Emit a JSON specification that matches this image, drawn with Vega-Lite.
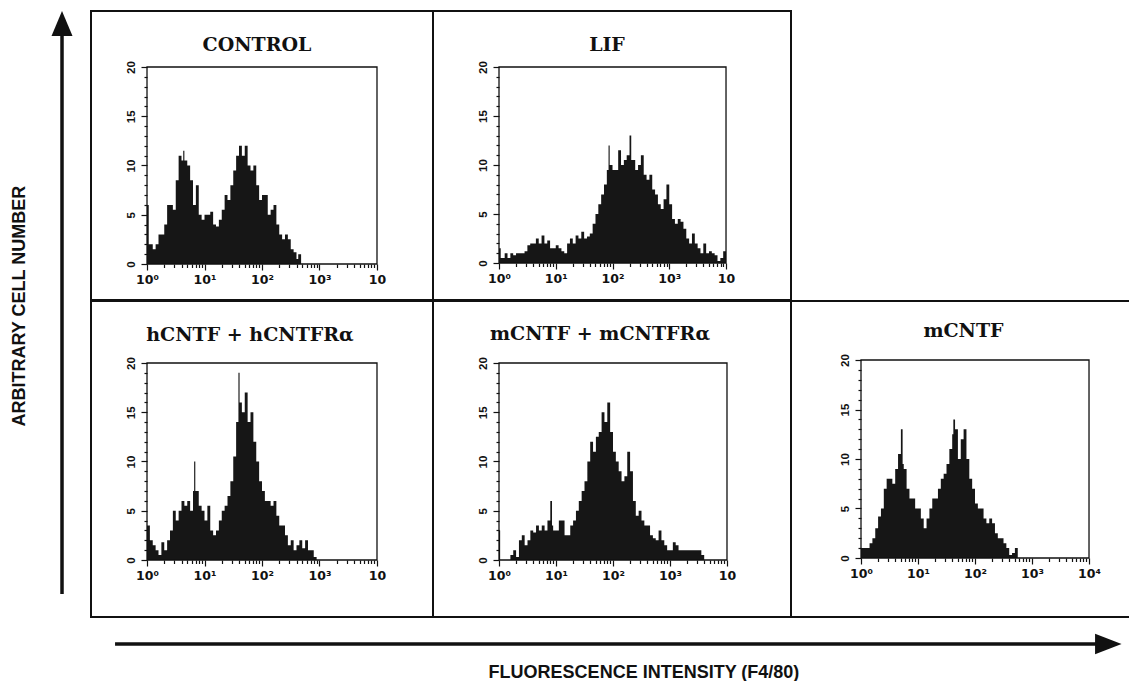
{
  "$schema": "https://vega.github.io/schema/vega-lite/v6.json",
  "background": "white",
  "padding": {"top": 10, "left": 0, "right": 0, "bottom": 0},
  "spacing": 0,
  "config": {
    "view": {"stroke": "#111", "strokeWidth": 2},
    "concat": {"spacing": 0},
    "axis": {
      "grid": false, "title": null, "domain": false,
      "labelFont": "Liberation Sans", "labelFontWeight": "bold", "labelColor": "#111",
      "tickColor": "#111", "tickWidth": 1.2,
      "labelOverlap": false, "labelFlush": false, "labelBound": false
    },
    "axisBottom": {"labelFont": "DejaVu Sans", "labelFontSize": 12.5, "labelPadding": 3},
    "axisLeft": {"labelFontSize": 11.5, "labelPadding": 5, "labelAngle": 270, "labelAlign": "center", "labelBaseline": "bottom"},
    "title": {"font": "DejaVu Serif", "fontSize": 19, "fontWeight": "bold", "color": "#111", "anchor": "middle", "frame": "group", "baseline": "alphabetic"}
  },
  "datasets": {
    "control": [
      {"d":0,"n":6},{"d":0.03,"n":2},{"d":0.1,"n":1.5},{"d":0.15,"n":2},{"d":0.2,"n":3},{"d":0.25,"n":3},{"d":0.3,"n":4},{"d":0.35,"n":6},{"d":0.4,"n":6},{"d":0.45,"n":5.5},{"d":0.5,"n":8.5},{"d":0.55,"n":11},{"d":0.6,"n":10.5},{"d":0.63,"n":11.5},{"d":0.65,"n":10.5},{"d":0.7,"n":10},{"d":0.75,"n":8.5},{"d":0.8,"n":6},{"d":0.85,"n":8},{"d":0.9,"n":5},{"d":0.95,"n":4.5},{"d":1,"n":5},{"d":1.05,"n":5},{"d":1.1,"n":5.3},{"d":1.15,"n":4},{"d":1.2,"n":3.8},{"d":1.25,"n":4.5},{"d":1.3,"n":5.5},{"d":1.35,"n":7},{"d":1.4,"n":6.5},{"d":1.45,"n":8},{"d":1.5,"n":9.5},{"d":1.55,"n":11},{"d":1.6,"n":12},{"d":1.65,"n":11},{"d":1.7,"n":12},{"d":1.75,"n":10},{"d":1.8,"n":9.5},{"d":1.85,"n":10},{"d":1.9,"n":8},{"d":1.95,"n":6.5},{"d":2,"n":7},{"d":2.05,"n":7},{"d":2.1,"n":5},{"d":2.15,"n":5.5},{"d":2.2,"n":6},{"d":2.25,"n":4},{"d":2.3,"n":3},{"d":2.35,"n":2.5},{"d":2.4,"n":3},{"d":2.45,"n":2.5},{"d":2.5,"n":1.5},{"d":2.55,"n":1.2},{"d":2.6,"n":0.5},{"d":2.63,"n":1},{"d":2.68,"n":0}
    ],
    "lif": [
      {"d":0,"n":1.5},{"d":0.03,"n":0.5},{"d":0.1,"n":1},{"d":0.15,"n":0.5},{"d":0.2,"n":1},{"d":0.25,"n":0.8},{"d":0.3,"n":1},{"d":0.35,"n":1},{"d":0.4,"n":1},{"d":0.45,"n":1.2},{"d":0.5,"n":1.8},{"d":0.55,"n":2},{"d":0.6,"n":2},{"d":0.65,"n":2.5},{"d":0.7,"n":2},{"d":0.75,"n":2.8},{"d":0.8,"n":2},{"d":0.85,"n":2.3},{"d":0.9,"n":1.5},{"d":0.95,"n":1.5},{"d":1,"n":1.8},{"d":1.05,"n":1.5},{"d":1.1,"n":1.2},{"d":1.15,"n":1},{"d":1.2,"n":2},{"d":1.25,"n":2.5},{"d":1.3,"n":2},{"d":1.35,"n":2.8},{"d":1.4,"n":2.5},{"d":1.45,"n":3.2},{"d":1.5,"n":2.5},{"d":1.55,"n":2.7},{"d":1.6,"n":3},{"d":1.65,"n":4},{"d":1.7,"n":5},{"d":1.75,"n":6},{"d":1.8,"n":7},{"d":1.85,"n":8},{"d":1.9,"n":9.5},{"d":1.93,"n":12},{"d":1.95,"n":10},{"d":2,"n":9.5},{"d":2.05,"n":9.5},{"d":2.1,"n":11.5},{"d":2.15,"n":10},{"d":2.2,"n":10.5},{"d":2.25,"n":11},{"d":2.3,"n":13},{"d":2.33,"n":10.5},{"d":2.4,"n":9.5},{"d":2.45,"n":10},{"d":2.5,"n":11},{"d":2.55,"n":9},{"d":2.6,"n":8.5},{"d":2.65,"n":9},{"d":2.7,"n":7.5},{"d":2.75,"n":7},{"d":2.8,"n":6},{"d":2.85,"n":5.5},{"d":2.9,"n":6.5},{"d":2.95,"n":8},{"d":3,"n":6},{"d":3.05,"n":4.5},{"d":3.1,"n":4},{"d":3.15,"n":4.5},{"d":3.2,"n":4.2},{"d":3.25,"n":3.5},{"d":3.3,"n":2.5},{"d":3.35,"n":2},{"d":3.4,"n":3},{"d":3.45,"n":2},{"d":3.5,"n":1.5},{"d":3.55,"n":1},{"d":3.6,"n":2},{"d":3.65,"n":1},{"d":3.7,"n":1.2},{"d":3.75,"n":1},{"d":3.8,"n":0.8},{"d":3.85,"n":0.2},{"d":3.9,"n":0.5},{"d":3.95,"n":1.2},{"d":4,"n":0}
    ],
    "hcntf": [
      {"d":0,"n":3.5},{"d":0.05,"n":2},{"d":0.1,"n":1.5},{"d":0.15,"n":1},{"d":0.2,"n":0.5},{"d":0.25,"n":1.8},{"d":0.3,"n":1},{"d":0.35,"n":2},{"d":0.4,"n":3},{"d":0.45,"n":5},{"d":0.5,"n":4},{"d":0.55,"n":5},{"d":0.6,"n":6},{"d":0.65,"n":5.5},{"d":0.7,"n":6},{"d":0.75,"n":5},{"d":0.8,"n":7},{"d":0.82,"n":10},{"d":0.84,"n":7},{"d":0.9,"n":5.5},{"d":0.95,"n":5},{"d":1,"n":4},{"d":1.05,"n":5.5},{"d":1.1,"n":3},{"d":1.15,"n":2.5},{"d":1.2,"n":3},{"d":1.25,"n":4},{"d":1.3,"n":5},{"d":1.35,"n":5.5},{"d":1.4,"n":6.5},{"d":1.45,"n":8},{"d":1.5,"n":10.5},{"d":1.55,"n":14},{"d":1.59,"n":19},{"d":1.61,"n":16},{"d":1.65,"n":15},{"d":1.7,"n":17},{"d":1.75,"n":14},{"d":1.8,"n":15},{"d":1.85,"n":12},{"d":1.9,"n":10},{"d":1.95,"n":8},{"d":2,"n":7},{"d":2.05,"n":6},{"d":2.1,"n":6},{"d":2.15,"n":5.5},{"d":2.2,"n":6},{"d":2.25,"n":4.5},{"d":2.3,"n":3.5},{"d":2.35,"n":3.5},{"d":2.4,"n":2.5},{"d":2.45,"n":1.5},{"d":2.5,"n":2},{"d":2.55,"n":1},{"d":2.6,"n":1.5},{"d":2.65,"n":2},{"d":2.7,"n":1.2},{"d":2.75,"n":2},{"d":2.8,"n":1},{"d":2.85,"n":1},{"d":2.9,"n":0.3},{"d":2.95,"n":0}
    ],
    "mcntfr": [
      {"d":0,"n":3},{"d":0.02,"n":0},{"d":0.2,"n":0.5},{"d":0.25,"n":1},{"d":0.3,"n":0.3},{"d":0.35,"n":2},{"d":0.4,"n":2.5},{"d":0.45,"n":1.5},{"d":0.5,"n":2},{"d":0.55,"n":3},{"d":0.6,"n":2.8},{"d":0.65,"n":3.5},{"d":0.7,"n":3},{"d":0.75,"n":3.5},{"d":0.8,"n":3},{"d":0.85,"n":4},{"d":0.9,"n":6},{"d":0.93,"n":3.5},{"d":0.95,"n":3},{"d":1,"n":3},{"d":1.05,"n":4},{"d":1.1,"n":4},{"d":1.15,"n":2.5},{"d":1.2,"n":2.5},{"d":1.25,"n":3.5},{"d":1.3,"n":4},{"d":1.35,"n":5},{"d":1.4,"n":6},{"d":1.45,"n":7},{"d":1.5,"n":8},{"d":1.55,"n":10},{"d":1.6,"n":12},{"d":1.65,"n":11},{"d":1.7,"n":12.5},{"d":1.75,"n":13},{"d":1.8,"n":15},{"d":1.85,"n":14},{"d":1.9,"n":16},{"d":1.95,"n":13},{"d":2,"n":11},{"d":2.05,"n":10},{"d":2.1,"n":9},{"d":2.15,"n":8},{"d":2.2,"n":8.5},{"d":2.25,"n":11},{"d":2.3,"n":9},{"d":2.35,"n":6},{"d":2.4,"n":4.5},{"d":2.45,"n":5},{"d":2.5,"n":4},{"d":2.55,"n":3.5},{"d":2.6,"n":3.5},{"d":2.65,"n":2.5},{"d":2.7,"n":2.2},{"d":2.75,"n":2},{"d":2.8,"n":3},{"d":2.85,"n":2},{"d":2.9,"n":1.5},{"d":2.95,"n":1},{"d":3,"n":1},{"d":3.05,"n":1.8},{"d":3.1,"n":1.5},{"d":3.15,"n":1},{"d":3.5,"n":1},{"d":3.55,"n":0.5},{"d":3.6,"n":0}
    ],
    "mcntf": [
      {"d":0,"n":1},{"d":0.15,"n":1.5},{"d":0.2,"n":2},{"d":0.25,"n":3},{"d":0.3,"n":4.2},{"d":0.35,"n":5},{"d":0.4,"n":7},{"d":0.45,"n":8},{"d":0.5,"n":8},{"d":0.55,"n":7.5},{"d":0.6,"n":9},{"d":0.65,"n":10.5},{"d":0.7,"n":13},{"d":0.73,"n":9.5},{"d":0.75,"n":9},{"d":0.8,"n":7},{"d":0.85,"n":6},{"d":0.9,"n":6},{"d":0.95,"n":5},{"d":1,"n":5},{"d":1.05,"n":4},{"d":1.1,"n":3},{"d":1.15,"n":4},{"d":1.2,"n":5},{"d":1.25,"n":6},{"d":1.3,"n":6},{"d":1.35,"n":7},{"d":1.4,"n":8},{"d":1.45,"n":8.5},{"d":1.5,"n":9.5},{"d":1.55,"n":11},{"d":1.6,"n":12.5},{"d":1.62,"n":14},{"d":1.65,"n":13},{"d":1.7,"n":10},{"d":1.75,"n":12},{"d":1.8,"n":13},{"d":1.85,"n":10},{"d":1.9,"n":8},{"d":1.95,"n":7},{"d":2,"n":5.5},{"d":2.05,"n":5},{"d":2.1,"n":5},{"d":2.15,"n":4},{"d":2.2,"n":3.5},{"d":2.25,"n":4},{"d":2.3,"n":3.5},{"d":2.35,"n":2.5},{"d":2.4,"n":2},{"d":2.45,"n":2},{"d":2.5,"n":1.5},{"d":2.55,"n":1},{"d":2.6,"n":0.3},{"d":2.65,"n":0.5},{"d":2.7,"n":1},{"d":2.75,"n":0}
    ]
  },
  "vconcat": [
    {
      "spacing": 0,
      "hconcat": [
        {
          "width": 90, "height": 606,
          "view": {"stroke": null},
          "layer": [
            {
              "data": {"values": [{}]},
              "mark": {"type": "rule", "strokeWidth": 3.5, "color": "#111"},
              "encoding": {
                "x": {"datum": 68.9, "type": "quantitative", "scale": {"domain": [0, 100]}, "axis": null},
                "y": {"datum": 95.9, "type": "quantitative", "scale": {"domain": [0, 100]}, "axis": null},
                "y2": {"datum": 3.8}
              }
            },
            {
              "data": {"values": [{}]},
              "mark": {"type": "point", "shape": "M0,-1L-0.84,1L0.84,1Z", "filled": true, "size": 625, "color": "#111", "opacity": 1},
              "encoding": {
                "x": {"datum": 68.9, "type": "quantitative"},
                "y": {"datum": 97.94, "type": "quantitative"}
              }
            },
            {
              "data": {"values": [{"label": "ARBITRARY CELL NUMBER"}]},
              "mark": {"type": "text", "angle": 270, "font": "Liberation Sans", "fontWeight": "bold", "fontSize": 18, "color": "#111", "align": "center", "baseline": "middle"},
              "encoding": {
                "x": {"datum": 22.2, "type": "quantitative"},
                "y": {"datum": 51.3, "type": "quantitative"},
                "text": {"field": "label"}
              }
            }
          ]
        },
        {
          "spacing": -2,
          "vconcat": [
            {
              "bounds": "flush", "spacing": 0,
              "hconcat": [
                {
                  "width": 342, "height": 289,
                  "title": {"text": "CONTROL", "offset": -44, "dx": -5},
                  "resolve": {"axis": {"x": "independent", "y": "independent"}},
                  "layer": [
                    {
                      "data": {"name": "control"},
                      "mark": {"type": "area", "interpolate": "step-after", "color": "#161616"},
                      "encoding": {
                        "x": {"field": "d", "type": "quantitative", "scale": {"domain": [-0.974, 4.974], "nice": false, "zero": false},
                          "axis": {"orient": "bottom", "offset": -36, "values": [0,1,2,3,4], "tickSize": 6,
                            "labelExpr": "datum.value == 0 ? '10⁰' : datum.value == 1 ? '10¹' : datum.value == 2 ? '10²' : datum.value == 3 ? '10³' : '10'"}},
                        "y": {"field": "n", "type": "quantitative", "scale": {"domain": [-3.655, 25.685], "nice": false, "zero": false},
                          "axis": {"orient": "left", "offset": -56, "values": [0,5,10,15,20], "tickSize": 6}}
                      }
                    },
                    {
                      "data": {"values": [{}]},
                      "mark": {"type": "rect", "filled": false, "stroke": "#111", "strokeWidth": 1.3},
                      "encoding": {
                        "x": {"datum": 0, "type": "quantitative", "axis": {"orient": "bottom", "offset": -36, "labels": false, "tickSize": 3.5, "values": [0.301,0.477,0.602,0.699,0.778,0.845,0.903,0.954,1.301,1.477,1.602,1.699,1.778,1.845,1.903,1.954,2.301,2.477,2.602,2.699,2.778,2.845,2.903,2.954,3.301,3.477,3.602,3.699,3.778,3.845,3.903,3.954]}},
                        "x2": {"datum": 4},
                        "y": {"datum": 0, "type": "quantitative", "axis": {"orient": "left", "offset": -56, "labels": false, "tickSize": 3, "values": [1,2,3,4,6,7,8,9,11,12,13,14,16,17,18,19]}},
                        "y2": {"datum": 20}
                      }
                    }
                  ]
                },
                {
                  "width": 358, "height": 289,
                  "title": {"text": "LIF", "offset": -44, "dx": -5},
                  "resolve": {"axis": {"x": "independent", "y": "independent"}},
                  "layer": [
                    {
                      "data": {"name": "lif"},
                      "mark": {"type": "area", "interpolate": "step-after", "color": "#161616"},
                      "encoding": {
                        "x": {"field": "d", "type": "quantitative", "scale": {"domain": [-1.163, 5.145], "nice": false, "zero": false},
                          "axis": {"orient": "bottom", "offset": -37, "values": [0,1,2,3,4], "tickSize": 6,
                            "labelExpr": "datum.value == 0 ? '10⁰' : datum.value == 1 ? '10¹' : datum.value == 2 ? '10²' : datum.value == 3 ? '10³' : '10'"}},
                        "y": {"field": "n", "type": "quantitative", "scale": {"domain": [-3.776, 25.714], "nice": false, "zero": false},
                          "axis": {"orient": "left", "offset": -66, "values": [0,5,10,15,20], "tickSize": 6}}
                      }
                    },
                    {
                      "data": {"values": [{}]},
                      "mark": {"type": "rect", "filled": false, "stroke": "#111", "strokeWidth": 1.3},
                      "encoding": {
                        "x": {"datum": 0, "type": "quantitative", "axis": {"orient": "bottom", "offset": -37, "labels": false, "tickSize": 3.5, "values": [0.301,0.477,0.602,0.699,0.778,0.845,0.903,0.954,1.301,1.477,1.602,1.699,1.778,1.845,1.903,1.954,2.301,2.477,2.602,2.699,2.778,2.845,2.903,2.954,3.301,3.477,3.602,3.699,3.778,3.845,3.903,3.954]}},
                        "x2": {"datum": 4},
                        "y": {"datum": 0, "type": "quantitative", "axis": {"orient": "left", "offset": -66, "labels": false, "tickSize": 3, "values": [1,2,3,4,6,7,8,9,11,12,13,14,16,17,18,19]}},
                        "y2": {"datum": 20}
                      }
                    }
                  ]
                }
              ]
            },
            {
              "bounds": "flush", "spacing": 0,
              "hconcat": [
                {
                  "width": 342, "height": 316,
                  "title": {"text": "hCNTF + hCNTFRα", "offset": -44, "dx": -12},
                  "resolve": {"axis": {"x": "independent", "y": "independent"}},
                  "layer": [
                    {
                      "data": {"name": "hcntf"},
                      "mark": {"type": "area", "interpolate": "step-after", "color": "#161616"},
                      "encoding": {
                        "x": {"field": "d", "type": "quantitative", "scale": {"domain": [-0.974, 4.974], "nice": false, "zero": false},
                          "axis": {"orient": "bottom", "offset": -57, "values": [0,1,2,3,4], "tickSize": 6,
                            "labelExpr": "datum.value == 0 ? '10⁰' : datum.value == 1 ? '10¹' : datum.value == 2 ? '10²' : datum.value == 3 ? '10³' : '10'"}},
                        "y": {"field": "n", "type": "quantitative", "scale": {"domain": [-5.787, 26.294], "nice": false, "zero": false},
                          "axis": {"orient": "left", "offset": -56, "values": [0,5,10,15,20], "tickSize": 6}}
                      }
                    },
                    {
                      "data": {"values": [{}]},
                      "mark": {"type": "rect", "filled": false, "stroke": "#111", "strokeWidth": 1.3},
                      "encoding": {
                        "x": {"datum": 0, "type": "quantitative", "axis": {"orient": "bottom", "offset": -57, "labels": false, "tickSize": 3.5, "values": [0.301,0.477,0.602,0.699,0.778,0.845,0.903,0.954,1.301,1.477,1.602,1.699,1.778,1.845,1.903,1.954,2.301,2.477,2.602,2.699,2.778,2.845,2.903,2.954,3.301,3.477,3.602,3.699,3.778,3.845,3.903,3.954]}},
                        "x2": {"datum": 4},
                        "y": {"datum": 0, "type": "quantitative", "axis": {"orient": "left", "offset": -56, "labels": false, "tickSize": 3, "values": [1,2,3,4,6,7,8,9,11,12,13,14,16,17,18,19]}},
                        "y2": {"datum": 20}
                      }
                    }
                  ]
                },
                {
                  "width": 358, "height": 316,
                  "title": {"text": "mCNTF + mCNTFRα", "offset": -43, "dx": -12},
                  "resolve": {"axis": {"x": "independent", "y": "independent"}},
                  "layer": [
                    {
                      "data": {"name": "mcntfr"},
                      "mark": {"type": "area", "interpolate": "step-after", "color": "#161616"},
                      "encoding": {
                        "x": {"field": "d", "type": "quantitative", "scale": {"domain": [-1.158, 5.123], "nice": false, "zero": false},
                          "axis": {"orient": "bottom", "offset": -57, "values": [0,1,2,3,4], "tickSize": 6,
                            "labelExpr": "datum.value == 0 ? '10⁰' : datum.value == 1 ? '10¹' : datum.value == 2 ? '10²' : datum.value == 3 ? '10³' : '10'"}},
                        "y": {"field": "n", "type": "quantitative", "scale": {"domain": [-5.787, 26.294], "nice": false, "zero": false},
                          "axis": {"orient": "left", "offset": -66, "values": [0,5,10,15,20], "tickSize": 6}}
                      }
                    },
                    {
                      "data": {"values": [{}]},
                      "mark": {"type": "rect", "filled": false, "stroke": "#111", "strokeWidth": 1.3},
                      "encoding": {
                        "x": {"datum": 0, "type": "quantitative", "axis": {"orient": "bottom", "offset": -57, "labels": false, "tickSize": 3.5, "values": [0.301,0.477,0.602,0.699,0.778,0.845,0.903,0.954,1.301,1.477,1.602,1.699,1.778,1.845,1.903,1.954,2.301,2.477,2.602,2.699,2.778,2.845,2.903,2.954,3.301,3.477,3.602,3.699,3.778,3.845,3.903,3.954]}},
                        "x2": {"datum": 4},
                        "y": {"datum": 0, "type": "quantitative", "axis": {"orient": "left", "offset": -66, "labels": false, "tickSize": 3, "values": [1,2,3,4,6,7,8,9,11,12,13,14,16,17,18,19]}},
                        "y2": {"datum": 20}
                      }
                    }
                  ]
                },
                {
                  "width": 339, "height": 316,
                  "view": {"stroke": null},
                  "title": {"text": "mCNTF", "offset": -41, "dx": 3},
                  "resolve": {"axis": {"x": "independent", "y": "independent"}},
                  "layer": [
                    {
                      "data": {"name": "mcntf"},
                      "mark": {"type": "area", "interpolate": "step-after", "color": "#161616"},
                      "encoding": {
                        "x": {"field": "d", "type": "quantitative", "scale": {"domain": [-1.228, 4.719], "nice": false, "zero": false},
                          "axis": {"orient": "bottom", "offset": -59, "values": [0,1,2,3,4], "tickSize": 6,
                            "labelExpr": "datum.value == 0 ? '10⁰' : datum.value == 1 ? '10¹' : datum.value == 2 ? '10²' : datum.value == 3 ? '10³' : '10⁴'"}},
                        "y": {"field": "n", "type": "quantitative", "scale": {"domain": [-5.96, 25.96], "nice": false, "zero": false},
                          "axis": {"orient": "left", "offset": -70, "values": [0,5,10,15,20], "tickSize": 6}}
                      }
                    },
                    {
                      "data": {"values": [{}]},
                      "mark": {"type": "rect", "filled": false, "stroke": "#111", "strokeWidth": 1.3},
                      "encoding": {
                        "x": {"datum": 0, "type": "quantitative", "axis": {"orient": "bottom", "offset": -59, "labels": false, "tickSize": 3.5, "values": [0.301,0.477,0.602,0.699,0.778,0.845,0.903,0.954,1.301,1.477,1.602,1.699,1.778,1.845,1.903,1.954,2.301,2.477,2.602,2.699,2.778,2.845,2.903,2.954,3.301,3.477,3.602,3.699,3.778,3.845,3.903,3.954]}},
                        "x2": {"datum": 4},
                        "y": {"datum": 0, "type": "quantitative", "axis": {"orient": "left", "offset": -70, "labels": false, "tickSize": 3, "values": [1,2,3,4,6,7,8,9,11,12,13,14,16,17,18,19]}},
                        "y2": {"datum": 20}
                      }
                    },
                    {
                      "data": {"values": [{}]},
                      "mark": {"type": "rule", "strokeWidth": 2, "color": "#111"},
                      "encoding": {"y": {"datum": 25.96, "type": "quantitative", "axis": null}}
                    },
                    {
                      "data": {"values": [{}]},
                      "mark": {"type": "rule", "strokeWidth": 2, "color": "#111"},
                      "encoding": {"y": {"datum": -5.96, "type": "quantitative", "axis": null}}
                    }
                  ]
                }
              ]
            }
          ]
        }
      ]
    },
    {
      "width": 1129, "height": 65,
      "view": {"stroke": null},
      "layer": [
        {
          "data": {"values": [{}]},
          "mark": {"type": "rule", "strokeWidth": 3.5, "color": "#111"},
          "encoding": {
            "x": {"datum": 10.19, "type": "quantitative", "scale": {"domain": [0, 100]}, "axis": null},
            "x2": {"datum": 97.17},
            "y": {"datum": 60, "type": "quantitative", "scale": {"domain": [0, 100]}, "axis": null}
          }
        },
        {
          "data": {"values": [{}]},
          "mark": {"type": "point", "shape": "M1,0L-1,-0.77L-1,0.77Z", "filled": true, "size": 702, "color": "#111", "opacity": 1},
          "encoding": {
            "x": {"datum": 98.17, "type": "quantitative"},
            "y": {"datum": 60, "type": "quantitative"}
          }
        },
        {
          "data": {"values": [{"label": "FLUORESCENCE INTENSITY (F4/80)"}]},
          "mark": {"type": "text", "font": "Liberation Sans", "fontWeight": "bold", "fontSize": 18, "color": "#111", "align": "center", "baseline": "middle"},
          "encoding": {
            "x": {"datum": 57.04, "type": "quantitative"},
            "y": {"datum": 15.4, "type": "quantitative"},
            "text": {"field": "label"}
          }
        }
      ]
    }
  ]
}
